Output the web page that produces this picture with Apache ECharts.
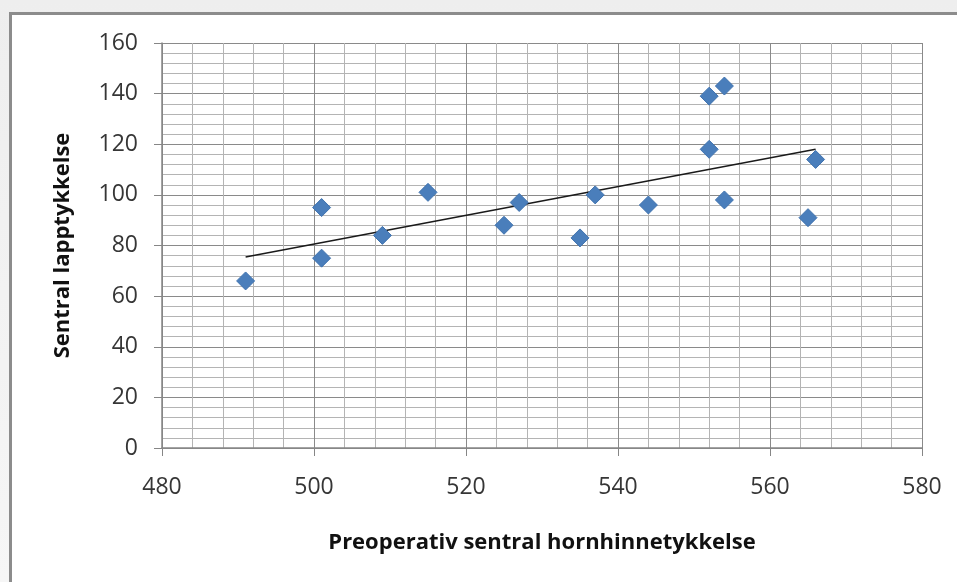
<!DOCTYPE html>
<html>
<head>
<meta charset="utf-8">
<script src="https://cdn.jsdelivr.net/npm/echarts@6/dist/echarts.min.js"></script>
<style>
  html, body { margin: 0; padding: 0; width: 957px; height: 582px; overflow: hidden;
    background: linear-gradient(#eeeeee, #f6f6f6); }
  #frame { position: absolute; left: 9px; top: 12px; width: 970px; height: 600px;
    background: #ffffff; border: 3px solid #8c8c8c; box-sizing: border-box; }
  #chart { position: absolute; left: 0; top: 0; width: 957px; height: 582px; }
</style>
</head>
<body>
<div id="frame"></div>
<div id="chart"></div>
<script>
// Preoperative central corneal thickness vs. central flap thickness
const thickness = [491, 501, 501, 509, 515, 525, 527, 535, 537, 544, 552, 554, 552, 554, 565, 566];
const flap      = [66, 95, 75, 84, 101, 88, 97, 83, 100, 96, 139, 143, 118, 98, 91, 114];
// linear trend line end points
const trendX = [491, 566];
const trendY = [75.5, 118];

const xTitle = 'Preoperativ sentral hornhinnetykkelse';
const yTitle = 'Sentral lapptykkelse';

const points = thickness.map((x, i) => [x, flap[i]]);
const trend = trendX.map((x, i) => [x, trendY[i]]);

const font = '"Open Sans", "Liberation Sans", sans-serif';
const majorLine = { show: true, lineStyle: { color: '#8a8a8a', width: 1 } };
const minorLine = { show: true, lineStyle: { color: '#b4b4b4', width: 1 } };

const chart = echarts.init(document.getElementById('chart'), null, { renderer: 'canvas' });
chart.setOption({
  animation: false,
  backgroundColor: 'transparent',
  grid: { left: 162, right: 35, top: 43, bottom: 134 },
  xAxis: {
    type: 'value', min: 480, max: 580, interval: 20,
    name: xTitle, nameLocation: 'middle', nameGap: 84,
    nameTextStyle: { fontFamily: font, fontSize: 22, fontWeight: 'bold', color: '#111' },
    axisLine: { show: true, onZero: false, lineStyle: { color: '#868686', width: 1.5 } },
    axisTick: { show: true, length: 8, inside: false, lineStyle: { color: '#868686' } },
    axisLabel: { fontFamily: font, fontSize: 23, color: '#363636', margin: 28 },
    splitLine: majorLine,
    minorTick: { show: false, splitNumber: 5 },
    minorSplitLine: minorLine
  },
  yAxis: {
    type: 'value', min: 0, max: 160, interval: 20,
    name: yTitle, nameLocation: 'middle', nameGap: 88, nameRotate: 90,
    nameTextStyle: { fontFamily: font, fontSize: 22, fontWeight: 'bold', color: '#111' },
    axisLine: { show: true, lineStyle: { color: '#868686', width: 1.5 } },
    axisTick: { show: true, length: 8, inside: false, lineStyle: { color: '#868686' } },
    axisLabel: { fontFamily: font, fontSize: 23, color: '#363636', margin: 24 },
    splitLine: majorLine,
    minorTick: { show: false, splitNumber: 5 },
    minorSplitLine: minorLine
  },
  series: [
    {
      type: 'line', data: trend, showSymbol: false, symbol: 'none',
      lineStyle: { color: '#1a1a1a', width: 1.5 }, z: 3, silent: true
    },
    {
      type: 'scatter', data: points, symbol: 'diamond', symbolSize: 18,
      itemStyle: { color: '#4a7ebb', borderColor: '#3f72ae', borderWidth: 1, opacity: 1 },
      z: 4
    }
  ]
});
</script>
</body>
</html>
